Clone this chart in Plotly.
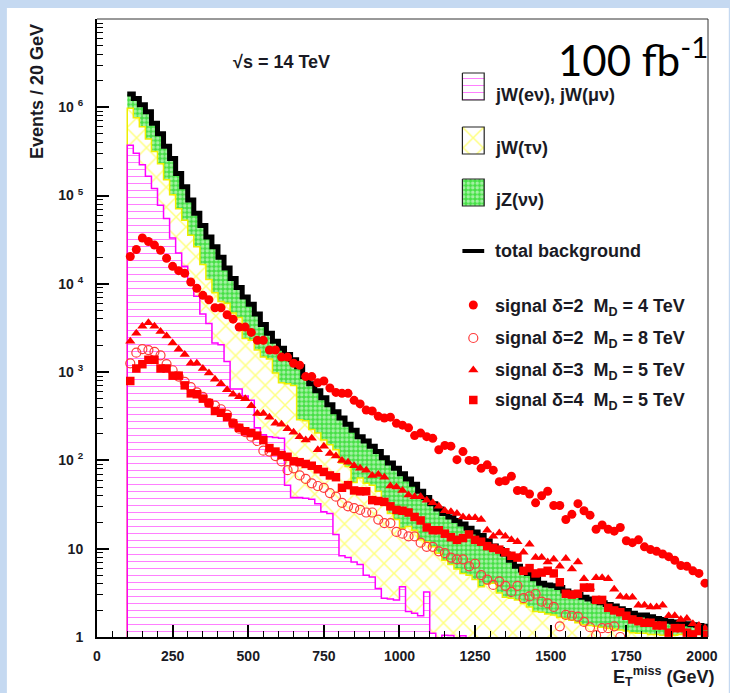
import numpy as np
import plotly.graph_objects as go

# ------------------------------------------------------------------
# Data: 20 GeV bins from 100 to 2020 GeV
# ------------------------------------------------------------------
bin_width = 20
first_edge = 100
n_bins = 96

# stacked background levels (events / 20 GeV)
stack_lep = [  # jW(e nu) + jW(mu nu)
    3.72e5, 3.02e5, 2.24e5, 1.66e5, 1.20e5, 7.76e4, 5.50e4, 3.31e4, 2.24e4, 1.58e4,
    1.07e4, 7240, 4570, 3550, 2140, 2040, 1320, 646, 646, 537,
    479, 234, 195, 186, 182, 178, 52.5, 38.0, 38.0, 37.2,
    36.3, 32.4, 26.3, 25.1, 14.5, 8.32, 7.94, 7.08, 6.61, 5.01,
    4.79, 3.55, 2.75, 2.69, 2.63, 3.72, 1.95, 1.86, 1.74, 3.24,
    1.10, 0, 1.05, 1.04, 0, 1.03, 0, 0, 0, 0,
    0, 0, 0, 0, 0, 0, 0, 0, 0, 0,
    0, 0, 0, 0, 0, 0, 0, 0, 0, 0,
    0, 0, 0, 0, 0, 0, 0, 0, 0, 0,
    0, 0, 0, 0, 0, 0]
stack_lep_tau = [  # + jW(tau nu)
    9.77e5, 7.59e5, 6.03e5, 4.37e5, 3.16e5, 2.29e5, 1.51e5, 1.02e5, 7.08e4, 5.25e4,
    3.55e4, 2.63e4, 1.66e4, 1.12e4, 7940, 6310, 6030, 4680, 4170, 2400,
    2290, 1780, 1480, 1410, 977, 759, 741, 708, 288, 282,
    224, 204, 170, 151, 132, 93.3, 85.1, 56.2, 63.1, 55.0,
    52.5, 44.7, 35.5, 25.1, 21.4, 17.0, 17.8, 16.2, 12.6, 12.0,
    10.5, 8.91, 7.41, 6.61, 5.89, 5.25, 5.01, 4.47, 3.72, 3.98,
    4.07, 3.16, 2.82, 2.75, 2.63, 2.40, 2.19, 1.95, 1.91, 1.82,
    1.78, 1.66, 1.62, 1.55, 1.45, 1.38, 1.35, 1.32, 1.29, 1.26,
    1.23, 1.20, 1.17, 1.12, 1.10, 1.10, 1.07, 1.07, 1.05, 1.07,
    1.05, 1.07, 1.05, 1.10, 1.07, 1.10]
stack_total = [  # + jZ(nu nu) = total background
    1.41e6, 1.26e6, 1.07e6, 8.91e5, 6.61e5, 5.01e5, 3.63e5, 2.63e5, 1.78e5, 1.26e5,
    8.91e4, 6.31e4, 4.57e4, 3.39e4, 2.63e4, 2.00e4, 1.51e4, 1.15e4, 9120, 7080,
    5890, 4570, 3470, 2750, 2240, 1860, 1580, 1380, 1150, 891,
    741, 617, 513, 427, 355, 302, 257, 219, 186, 166,
    145, 126, 107, 93.3, 81.3, 70.8, 61.7, 53.7, 44.7, 38.0,
    32.4, 28.2, 25.1, 22.9, 20.9, 19.1, 17.0, 15.5, 14.1, 12.3,
    10.7, 9.77, 8.71, 7.41, 6.31, 5.75, 5.25, 4.57, 4.07, 3.89,
    3.80, 3.63, 3.31, 3.16, 3.02, 2.82, 2.69, 2.57, 2.45, 2.34,
    2.24, 2.09, 2.00, 1.86, 1.78, 1.78, 1.70, 1.62, 1.58, 1.51,
    1.48, 1.45, 1.41, 1.38, 1.35, 1.32]

# signals (events / 20 GeV at bin centres)
sig_d2_md4 = [
    2.04e4, 2.45e4, 3.31e4, 3.02e4, 2.75e4, 2.40e4, 1.95e4, 1.58e4, 1.41e4, 1.32e4,
    1.05e4, 8910, 7410, 6610, 5370, 5370, 4470, 3980, 3240, 3240,
    2820, 2290, 2290, 1780, 1780, 1480, 1480, 1260, 1200, 891,
    891, 759, 794, 661, 589, 575, 575, 479, 437, 372,
    363, 316, 302, 309, 263, 251, 234, 191, 204, 186,
    178, 132, 148, 145, 102, 126, 100, 100, 81.3, 89.1,
    77.6, 57.5, 58.9, 66.1, 45.7, 45.7, 41.7, 33.1, 39.8, 44.7,
    30.9, 30.9, 21.4, 24.5, 32.4, 26.9, 24.0, 16.6, 18.6, 16.6,
    15.8, 17.4, 12.3, 11.7, 12.6, 10.5, 9.77, 9.33, 8.71, 8.13,
    7.41, 6.46, 6.31, 5.62, 5.25, 4.07]
sig_d2_md8 = [
    1260, 1660, 1820, 1780, 1700, 1550, 1230, 1050, 891, 776,
    676, 589, 525, 447, 417, 380, 331, 263, 229, 209,
    186, 166, 129, 126, 112, 97.7, 77.6, 81.3, 67.6, 61.7,
    55.0, 51.3, 49.0, 42.7, 38.9, 33.1, 30.2, 28.8, 27.5, 25.7,
    25.7, 21.4, 19.5, 19.5, 15.5, 14.8, 13.8, 13.8, 11.7, 10.5,
    10.5, 9.33, 8.91, 7.94, 7.59, 7.59, 6.31, 6.76, 5.01, 4.47,
    3.89, 4.27, 3.80, 3.24, 3.80, 2.75, 2.88, 3.09, 2.51, 2.40,
    2.19, 1.32, 1.78, 1.74, 1.70, 1.48, 1.29, 1.05, 1.26, 1.26,
    1.32, 1.00, None, None, None, None, None, None, None, None,
    None, None, None, None, None, None]
sig_d3_md5 = [
    2240, 2750, 3310, 3630, 3310, 2880, 2570, 2140, 1820, 1580,
    1260, 1260, 1100, 977, 832, 741, 631, 562, 525, 501,
    417, 339, 339, 309, 263, 257, 229, 209, 186, 170,
    178, 132, 145, 120, 112, 100, 95.5, 87.1, 81.3, 77.6,
    67.6, 69.2, 64.6, 51.3, 50.1, 45.7, 40.7, 38.9, 38.9, 35.5,
    33.1, 30.2, 26.9, 26.3, 25.1, 22.9, 22.4, 22.4, 21.4, 16.2,
    13.8, 15.1, 13.8, 12.6, 12.0, 9.12, 11.2, 7.94, 7.94, 7.08,
    7.59, 6.31, 7.76, 5.89, 7.08, 4.57, 3.63, 4.68, 4.68, 4.57,
    3.47, 2.88, 2.82, 2.82, 2.29, 2.29, 2.19, 2.19, 2.29, 1.74,
    1.74, 1.58, 1.62, 1.41, 1.35, 1.26]
sig_d4_md5 = [
    794, 1100, 1230, 1380, 1380, 1100, 1100, 912, 912, 708,
    575, 562, 501, 447, 363, 347, 309, 263, 234, 214,
    204, 191, 170, 138, 126, 115, 110, 97.7, 95.5, 91.2,
    87.1, 79.4, 74.1, 67.6, 64.6, 49.0, 52.5, 45.7, 44.7, 44.7,
    35.5, 34.7, 33.9, 30.2, 27.5, 26.9, 25.7, 22.9, 20.9, 17.4,
    16.2, 16.2, 14.8, 13.5, 12.6, 13.2, 14.5, 12.6, 12.0, 10.7,
    10.2, 9.77, 9.12, 8.32, 7.94, 5.62, 6.03, 5.25, 5.37, 5.62,
    5.25, 4.17, 3.09, 3.02, 3.09, 3.63, 3.63, 2.63, 2.63, 2.14,
    2.00, 1.91, 1.74, 1.58, 1.51, 1.45, 1.45, 1.35, 1.35, 1.12,
    1.26, 1.26, 1.12, 1.07, 1.17, 1.05]

x_tick_values = [0, 250, 500, 750, 1000, 1250, 1500, 1750, 2000]
y_tick_values = [1, 10, 100, 1e3, 1e4, 1e5, 1e6]
y_tick_labels = ["1", "10", "10 <sup>2</sup>", "10 <sup>3</sup>", "10 <sup>4</sup>",
                 "10 <sup>5</sup>", "10 <sup>6</sup>"]

legend_labels = ["jW(eν), jW(μν)", "jW(τν)", "jZ(νν)", "total background",
                 "signal δ=2\u00a0 M<sub>D</sub> = 4 TeV",
                 "signal δ=2\u00a0 M<sub>D</sub> = 8 TeV",
                 "signal δ=3\u00a0 M<sub>D</sub> = 5 TeV",
                 "signal δ=4\u00a0 M<sub>D</sub> = 5 TeV"]

# ------------------------------------------------------------------
# Geometry / styles
# ------------------------------------------------------------------
W, H = 730, 693
ML, MR, MT, MB = 97, 16, 19, 56
PW, PH = W - ML - MR, H - MT - MB


def px(x):
    return (x - ML) / PW


def py(y):
    return (H - MB - y) / PH


FONT = "Liberation Sans, Arial, sans-serif"
TXT = "#1a1a24"
RED = "#ff0000"
MAG = "#ff00ff"
PAT_LEP = dict(shape="-", size=7, solidity=0.15, fgcolor=MAG, bgcolor="white")
PAT_TAU = dict(shape="x", size=14, solidity=0.2, fgcolor="#ffff00", bgcolor="white")
PAT_ZNN = dict(shape=".", size=4.5, solidity=0.5, fgcolor="white", bgcolor="#44e044")

BASE = 0.5
edges = first_edge + bin_width * np.arange(n_bins + 1)
centers = edges[:-1] + bin_width / 2
sx = np.concatenate([[edges[0]], edges])


def sy(vals):
    v = np.maximum(np.array(vals, dtype=float), BASE)
    return np.concatenate([[BASE], v, [v[-1]]])


fig = go.Figure()
# stacked fills
fig.add_trace(go.Scatter(x=sx, y=np.full(len(sx), BASE), mode="lines",
                         line=dict(width=0, shape="hv"), hoverinfo="skip"))
fig.add_trace(go.Scatter(x=sx, y=sy(stack_lep), mode="lines", line=dict(width=0, shape="hv"),
                         fill="tonexty", fillcolor="white", fillpattern=PAT_LEP))
fig.add_trace(go.Scatter(x=sx, y=sy(stack_lep_tau), mode="lines", line=dict(width=0, shape="hv"),
                         fill="tonexty", fillcolor="white", fillpattern=PAT_TAU))
fig.add_trace(go.Scatter(x=sx, y=sy(stack_total), mode="lines", line=dict(width=0, shape="hv"),
                         fill="tonexty", fillcolor="white", fillpattern=PAT_ZNN))
# outlines
fig.add_trace(go.Scatter(x=sx, y=sy(stack_lep_tau), mode="lines",
                         line=dict(color="#eeee00", width=1.5, shape="hv")))
fig.add_trace(go.Scatter(x=sx, y=sy(stack_lep), mode="lines",
                         line=dict(color=MAG, width=1.5, shape="hv")))
tot = np.array(stack_total, dtype=float)
fig.add_trace(go.Scatter(x=edges, y=np.append(tot, tot[-1]), mode="lines",
                         line=dict(color="black", width=5, shape="hv")))
# signals
sig_styles = [
    (sig_d2_md4, dict(symbol="circle", size=9, color=RED)),
    (sig_d2_md8, dict(symbol="circle-open", size=9, color="#ff3b3b", line=dict(width=1.2))),
    (sig_d3_md5, dict(symbol="triangle-up", size=9, color=RED)),
    (sig_d4_md5, dict(symbol="square", size=8.5, color=RED)),
]
for vals, mk in sig_styles:
    fig.add_trace(go.Scatter(x=centers, y=vals, mode="markers", marker=mk))

# ---- legend glyphs in page-pixel overlay axes ----
box_x0, box_x1 = 466, 488
box_rows = [(73, 100, PAT_LEP), (127, 154, PAT_TAU), (179, 206, PAT_ZNN)]
for y0, y1, pat in box_rows:
    fig.add_trace(go.Scatter(x=[box_x0, box_x1, box_x1, box_x0, box_x0],
                             y=[y0, y0, y1, y1, y0], mode="lines", fill="toself",
                             fillcolor="white", fillpattern=pat,
                             line=dict(color="#222222", width=1.2),
                             xaxis="x2", yaxis="y2"))
fig.add_trace(go.Scatter(x=[box_x0, box_x1], y=[251, 251], mode="lines",
                         line=dict(color="black", width=4), xaxis="x2", yaxis="y2"))
marker_rows = [305, 338, 370, 400]
for (vals, mk), yr in zip(sig_styles, marker_rows):
    fig.add_trace(go.Scatter(x=[477], y=[yr], mode="markers", marker=mk,
                             xaxis="x2", yaxis="y2"))

# ---- text ----
ann = []


def add_text(text, x, y, xa="left", ya="middle", size=18, family=FONT, color=TXT, angle=0):
    ann.append(dict(text=text, x=px(x), y=py(y), xref="paper", yref="paper",
                    xanchor=xa, yanchor=ya, showarrow=False, textangle=angle,
                    font=dict(family=family, size=size, color=color)))


label_rows = [95, 148, 200, 251, 307, 339, 371, 401]
for lab, yr in zip(legend_labels, label_rows):
    add_text("<b>" + lab + "</b>", 497, yr)
add_text("<b>√s = 14 TeV</b>", 283, 62, xa="center")
add_text("100 fb<sup>-1</sup>", 561, 57, size=42, family="Lato, Open Sans, sans-serif",
         color="black")
add_text("<b>Events / 20 GeV</b>", 36, 22, xa="center", ya="top", angle=-90)
add_text("<b>E<sub>T</sub><sup>miss</sup> (GeV)</b>", 722, 677, xa="right")

shapes = [
    dict(type="rect", xref="paper", yref="paper", x0=px(6), x1=px(W + 5), y0=py(H + 5), y1=py(8),
         fillcolor="white", line=dict(width=0), layer="below"),
    dict(type="line", xref="paper", yref="paper", x0=0, x1=1, y0=1, y1=1,
         line=dict(color="#333333", width=1)),
    dict(type="line", xref="paper", yref="paper", x0=1, x1=1, y0=0, y1=1,
         line=dict(color="#333333", width=1)),
]

minor_x = [v for v in range(0, 2021, 50) if v % 250 != 0]
minor_y = [k * 10 ** d for d in range(0, 7) for k in range(2, 10)]

fig.update_layout(
    width=W, height=H, margin=dict(l=ML, r=MR, t=MT, b=MB, pad=0),
    paper_bgcolor="#c5d9f1", plot_bgcolor="white", showlegend=False,
    annotations=ann, shapes=shapes,
    xaxis=dict(range=[0, 2020], showgrid=False, zeroline=False, showline=True,
               linecolor="black", linewidth=2, ticks="inside", ticklen=12, tickwidth=1.5,
               tickcolor="black", tickvals=x_tick_values,
               ticktext=["<b>%d</b>" % v for v in x_tick_values],
               tickfont=dict(family=FONT, size=14, color=TXT), ticklabelstandoff=5,
               minor=dict(tickvals=minor_x, ticks="inside", ticklen=6, tickwidth=1.2,
                          tickcolor="black", showgrid=False)),
    yaxis=dict(type="log", range=[0, 7.0], showgrid=False, zeroline=False, showline=True,
               linecolor="black", linewidth=2, ticks="inside", ticklen=12, tickwidth=1.5,
               tickcolor="black", tickvals=y_tick_values,
               ticktext=["<b>" + t + "</b>" for t in y_tick_labels],
               tickfont=dict(family=FONT, size=14, color=TXT), ticklabelstandoff=9,
               minor=dict(tickvals=minor_y, ticks="inside", ticklen=6, tickwidth=1.2,
                          tickcolor="black", showgrid=False)),
    xaxis2=dict(overlaying="x", range=[ML, W - MR], visible=False),
    yaxis2=dict(overlaying="y", range=[H - MB, MT], visible=False),
)

fig.write_html("out.html")
